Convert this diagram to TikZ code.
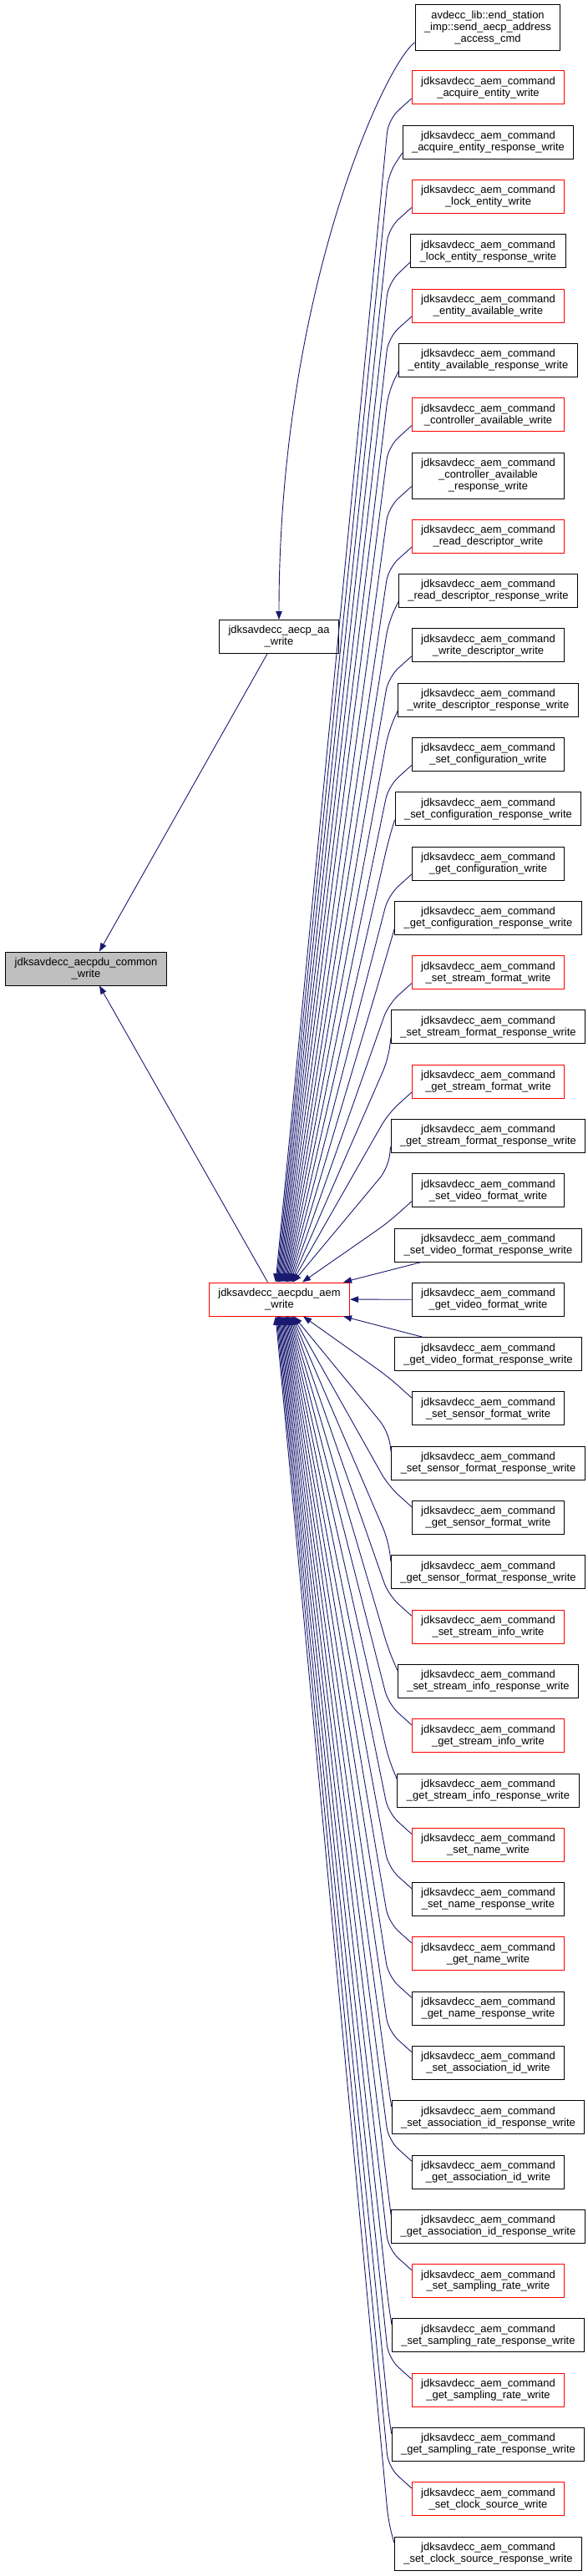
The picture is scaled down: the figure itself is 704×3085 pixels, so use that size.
\documentclass[tikz,border=0pt]{standalone}
\usepackage{fontspec}
\setmainfont{Liberation Sans}
\usetikzlibrary{arrows.meta,calc}
\definecolor{calledge}{HTML}{191970}
\definecolor{truncred}{HTML}{FF0000}
\definecolor{rootgray}{HTML}{BFBFBF}
\tikzset{
  fn/.style    ={draw=black,line width=1bp,fill=white,inner xsep=11bp,inner ysep=0bp,
                 minimum height=40bp,align=center,font=\fontsize{13}{14}\selectfont},
  fnred/.style ={fn,draw=truncred},
  fnroot/.style={fn,fill=rootgray},
  call/.style  ={-{Triangle[length=10bp,width=7.5bp]},line width=0.9bp,draw=calledge}
}
\begin{document}
\begin{tikzpicture}[x=1bp,y=-1bp]
  \useasboundingbox (0,0) rectangle (704,3085);
  % left column
  \node[fnroot] (common) at (103,1160) {jdksavdecc\_aecpdu\_common\\\_write};
  \node[fn] (aa) at (334,762.5) {jdksavdecc\_aecp\_aa\\\_write};
  \node[fnred] (aem) at (334.5,1556) {jdksavdecc\_aecpdu\_aem\\\_write};
  % right column
  \node[fn,minimum height=55bp] (r1) at (584,33.5)
    {avdecc\_lib::end\_station\\\_imp::send\_aecp\_address\\\_access\_cmd};
  \foreach \k/\bord/\lbl in {
      2/truncred/acquire\_entity\_write,
      3/black/acquire\_entity\_response\_write,
      4/truncred/lock\_entity\_write,
      5/black/lock\_entity\_response\_write,
      6/truncred/entity\_available\_write,
      7/black/entity\_available\_response\_write,
      8/truncred/controller\_available\_write,
      9/black/controller\_available\\\_response\_write,
      10/truncred/read\_descriptor\_write,
      11/black/read\_descriptor\_response\_write,
      12/black/write\_descriptor\_write,
      13/black/write\_descriptor\_response\_write,
      14/black/set\_configuration\_write,
      15/black/set\_configuration\_response\_write,
      16/black/get\_configuration\_write,
      17/black/get\_configuration\_response\_write,
      18/truncred/set\_stream\_format\_write,
      19/black/set\_stream\_format\_response\_write,
      20/truncred/get\_stream\_format\_write,
      21/black/get\_stream\_format\_response\_write,
      22/black/set\_video\_format\_write,
      23/black/set\_video\_format\_response\_write,
      24/black/get\_video\_format\_write,
      25/black/get\_video\_format\_response\_write,
      26/black/set\_sensor\_format\_write,
      27/black/set\_sensor\_format\_response\_write,
      28/black/get\_sensor\_format\_write,
      29/black/get\_sensor\_format\_response\_write,
      30/truncred/set\_stream\_info\_write,
      31/black/set\_stream\_info\_response\_write,
      32/truncred/get\_stream\_info\_write,
      33/black/get\_stream\_info\_response\_write,
      34/truncred/set\_name\_write,
      35/black/set\_name\_response\_write,
      36/truncred/get\_name\_write,
      37/black/get\_name\_response\_write,
      38/black/set\_association\_id\_write,
      39/black/set\_association\_id\_response\_write,
      40/black/get\_association\_id\_write,
      41/black/get\_association\_id\_response\_write,
      42/truncred/set\_sampling\_rate\_write,
      43/black/set\_sampling\_rate\_response\_write,
      44/truncred/get\_sampling\_rate\_write,
      45/black/get\_sampling\_rate\_response\_write,
      46/truncred/set\_clock\_source\_write,
      47/black/set\_clock\_source\_response\_write}{
    \pgfmathsetmacro{\yk}{105+(\k-2)*65.29+(\k>9)*15+(\k==9)*7.5}
    \pgfmathsetmacro{\mh}{40+15*(\k==9)}
    \node[fn,draw=\bord,minimum height=\mh bp] (r\k) at (584.5,\yk)
      {jdksavdecc\_aem\_command\\\_\lbl};
  }
  % calls into the common writer
  \draw[call] ($(aa.south)+(-14,0)$) -- ($(common.north)+(16,0)$);
  \draw[call] ($(aem.north)+(-14,0)$) -- ($(common.south)+(16,0)$);
  \draw[call] ($(r1.west)+(0,17.5)$) .. controls (462,75) and (334,350) .. (aa.north);
  % callers above the aem writer
  \foreach \k in {2,...,22}{
    \pgfmathsetmacro{\yk}{105+(\k-2)*65.29+(\k>9)*15+(\k==9)*7.5}
    \pgfmathsetmacro{\ax}{330+(\k-2)*1.1+(\k==22)*10}
    \draw[call,rounded corners=16bp] ($(r\k.west)+(0,13)$) -- (465,\yk+38)
      -- (\ax,0 |- aem.north);
  }
  \draw[call] ($(r23.south west)+(32,0)$) -- ($(aem.north east)+(-8,0)$);
  \draw[call] (r24) -- (aem);
  \draw[call] ($(r25.north west)+(34,0)$) -- ($(aem.south east)+(-8,0)$);
  % callers below the aem writer
  \foreach \k in {26,...,47}{
    \pgfmathsetmacro{\yk}{105+(\k-2)*65.29+15}
    \pgfmathsetmacro{\ax}{330+(47-\k)*1.1+(\k==26)*10}
    \draw[call,rounded corners=16bp] ($(r\k.west)+(0,-13)$) -- (465,\yk-38)
      -- (\ax,0 |- aem.south);
  }
\end{tikzpicture}
\end{document}
